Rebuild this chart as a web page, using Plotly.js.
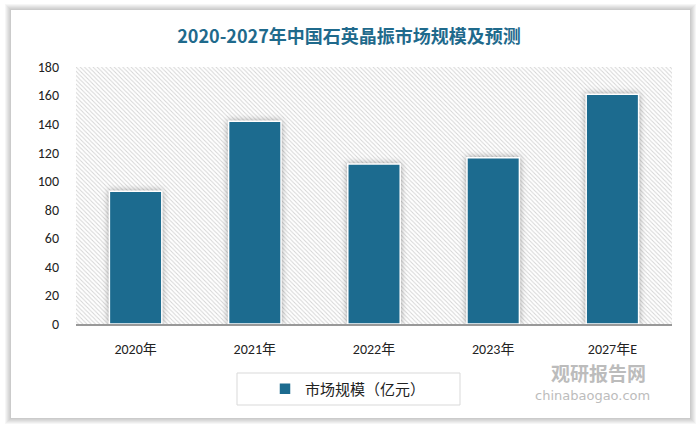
<!DOCTYPE html>
<html>
<head>
<meta charset="utf-8">
<script src="https://cdn.plot.ly/plotly-3.0.1.min.js"></script>
<style>
html,body{margin:0;padding:0;background:#fff;}
#chart{width:698px;height:424px;}
.bars .point path{filter: drop-shadow(0px 0px 3px rgba(0,0,0,0.35));}
</style>
</head>
<body>
<div id="chart"></div>
<script>
const categories = ["2020年", "2021年", "2022年", "2023年", "2027年E"];
const marketSize = [93, 142, 112, 116.5, 161];
const seriesName = "市场规模（亿元）";
const yTicks = [0, 20, 40, 60, 80, 100, 120, 140, 160, 180];
const chartTitle = "2020-2027年中国石英晶振市场规模及预测";

const W = 698, H = 424;
const L = 76, R = 26, T = 67, B = 100;
const pw = W - L - R, ph = H - T - B;
const px = x => (x - L) / pw;
const py = y => (H - B - y) / ph;

const font = "Calibri, 'Noto Sans CJK SC', 'Microsoft YaHei', sans-serif";
const yMax = yTicks[yTicks.length - 1];
const nCat = categories.length;

// background hatched panel (covers full category range), drawn on the base subplot
const bg = {
  type: 'scatter', mode: 'none', fill: 'toself',
  x: [-0.5, nCat - 0.5, nCat - 0.5, -0.5, -0.5],
  y: [0, 0, yMax, yMax, 0],
  xaxis: 'x', yaxis: 'y',
  fillcolor: 'rgba(0,0,0,0)',
  fillpattern: {shape: '\\', fgcolor: '#d4d4d4', bgcolor: '#ffffff', size: 3, solidity: 0.3},
  hoverinfo: 'skip', showlegend: false
};

const bars = {
  type: 'bar', x: categories, y: marketSize, name: seriesName,
  xaxis: 'x2', yaxis: 'y',
  marker: {color: '#1c6b8f', line: {color: '#ffffff', width: 1.5}},
  showlegend: true
};

const shapes = [];
// card shadow
for (let i = 6; i >= 1; i--) {
  shapes.push({type: 'rect', xref: 'paper', yref: 'paper', layer: 'below',
    x0: px(11 - i), x1: px(690 + i), y0: py(418 + i), y1: py(10 - i),
    line: {width: 0}, fillcolor: 'rgba(0,0,0,0.035)'});
}
shapes.push({type: 'rect', xref: 'paper', yref: 'paper', layer: 'below',
  x0: px(11), x1: px(690), y0: py(418), y1: py(10),
  line: {width: 0}, fillcolor: '#ffffff'});
// legend box
shapes.push({type: 'rect', xref: 'paper', yref: 'paper', layer: 'above',
  x0: px(237), x1: px(460), y0: py(405), y1: py(373),
  line: {width: 1, color: '#d9d9d9'}, fillcolor: 'rgba(0,0,0,0)'});

const layout = {
  width: W, height: H,
  margin: {l: L, r: R, t: T, b: B, pad: 0},
  paper_bgcolor: '#ffffff', plot_bgcolor: 'rgba(0,0,0,0)',
  font: {family: font, size: 14, color: '#222'},
  title: {text: '<b>' + chartTitle + '</b>', x: 0.5, xref: 'container', xanchor: 'center',
    y: 1 - 37 / H, yanchor: 'middle',
    font: {family: "'Noto Sans CJK SC', sans-serif", size: 18, color: '#1f6a8c'}},
  bargap: 0.56,
  xaxis: {range: [-0.5, nCat - 0.5], visible: false, fixedrange: true},
  xaxis2: {type: 'category', overlaying: 'x', side: 'bottom', anchor: 'y',
    showgrid: false, showline: true, linecolor: '#999', linewidth: 1.5,
    ticks: '', tickfont: {size: 14, color: '#222'}, fixedrange: true, ticklabelstandoff: 12},
  yaxis: {range: [0, yMax], tickvals: yTicks, showgrid: false, zeroline: false, showline: false,
    ticks: '', tickfont: {size: 14, color: '#222'}, ticklabelstandoff: 16, fixedrange: true},
  showlegend: true,
  legend: {orientation: 'h', x: px(348), xanchor: 'center', y: py(389), yanchor: 'middle',
    itemwidth: 30,
    font: {size: 15, color: '#222', family: "'Noto Sans CJK SC', sans-serif"}, bgcolor: 'rgba(0,0,0,0)'},
  shapes: shapes,
  annotations: [
    {text: '<b>观研报告网</b>', xref: 'paper', yref: 'paper', x: px(598), y: py(372),
      xanchor: 'center', yanchor: 'middle', showarrow: false,
      font: {family: "'Noto Sans CJK SC', sans-serif", size: 19, color: '#bcbcbc'}},
    {text: 'chinabaogao.com', xref: 'paper', yref: 'paper', x: px(592), y: py(395),
      xanchor: 'center', yanchor: 'middle', showarrow: false,
      font: {family: "'DejaVu Sans', sans-serif", size: 13, color: '#bcbcbc'}}
  ]
};

Plotly.newPlot('chart', [bg, bars], layout, {displayModeBar: false, staticPlot: true});
</script>
</body>
</html>
